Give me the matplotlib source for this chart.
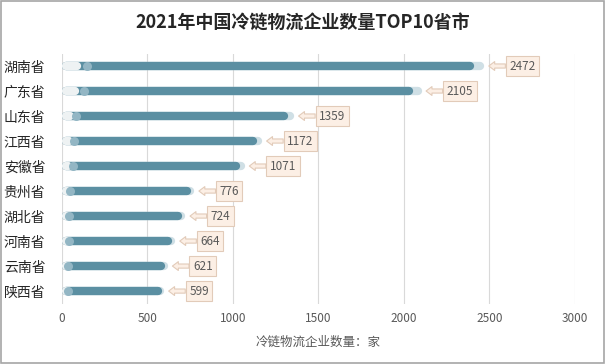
import numpy as np
import matplotlib
matplotlib.use('Agg')
import matplotlib.pyplot as plt
from matplotlib.patches import Rectangle

plt.rcParams['font.family'] = ['Noto Sans CJK SC', 'DejaVu Sans']

provinces = ['湖南省', '广东省', '山东省', '江西省', '安徽省', '贵州省', '湖北省', '河南省', '云南省', '陕西省']
counts = [2472, 2105, 1359, 1172, 1071, 776, 724, 664, 621, 599]
xticks = [0, 500, 1000, 1500, 2000, 2500, 3000]

bar_c = '#5b8fa2'
grey = '#595959'

fig = plt.figure(figsize=(6.05, 3.64), dpi=100)
ax = fig.add_axes([0.1025, 0.166, 0.8475, 0.687])

ys = np.arange(len(provinces))
for y, v in zip(ys, counts):
    # faded end, main bar, pale start
    ax.plot([25, v - 25], [y, y], lw=6, color='#cfdfe5', solid_capstyle='round', zorder=2)
    ax.plot([25, v * 0.975 - 25], [y, y], lw=6, color=bar_c, solid_capstyle='round', zorder=3)
    ax.plot([25, max(v * 0.035, 30)], [y, y], lw=6, color='#eef2f3', solid_capstyle='round', zorder=4)
    ax.plot([v * 0.06], [y], marker='o', ms=6.5, mew=0, color='#93b6c4', zorder=5)
    ax.annotate(str(v), xy=(v + 25, y), xytext=(v + 145, y),
                ha='left', va='center', fontsize=8.5, color=grey,
                bbox=dict(boxstyle='square,pad=0.3', fc='#fcefe5', ec='#e2cbb9', lw=0.8),
                arrowprops=dict(arrowstyle='simple,head_width=0.75,head_length=0.5,tail_width=0.35',
                                fc='#fcefe5', ec='#e2cbb9', lw=0.8, shrinkA=0, shrinkB=0),
                zorder=6)

ax.set_xlim(0, 3000)
ax.set_ylim(len(provinces) - 0.5, -0.5)
ax.set_yticks(ys)
ax.set_yticklabels(provinces, fontsize=10, color='#262626')
ax.set_xticks(xticks)
ax.set_xticklabels([str(t) for t in xticks], fontsize=8.5, color=grey)
ax.tick_params(length=0, pad=6)
ax.tick_params(axis='y', pad=12)
ax.xaxis.grid(True, color='#d9d9d9', lw=0.8)
ax.set_axisbelow(True)
for s in ax.spines.values():
    s.set_visible(False)
ax.set_xlabel('冷链物流企业数量：家', fontsize=9, color=grey, labelpad=8)

fig.suptitle('2021年中国冷链物流企业数量TOP10省市', fontsize=13, fontweight='bold',
             color='#262626', y=0.965)

fig.patches.append(Rectangle((0.001, 0.002), 0.997, 0.996, transform=fig.transFigure,
                             fill=False, ec='#a6a6a6', lw=1.2))

fig.savefig('out.png', dpi=100)
